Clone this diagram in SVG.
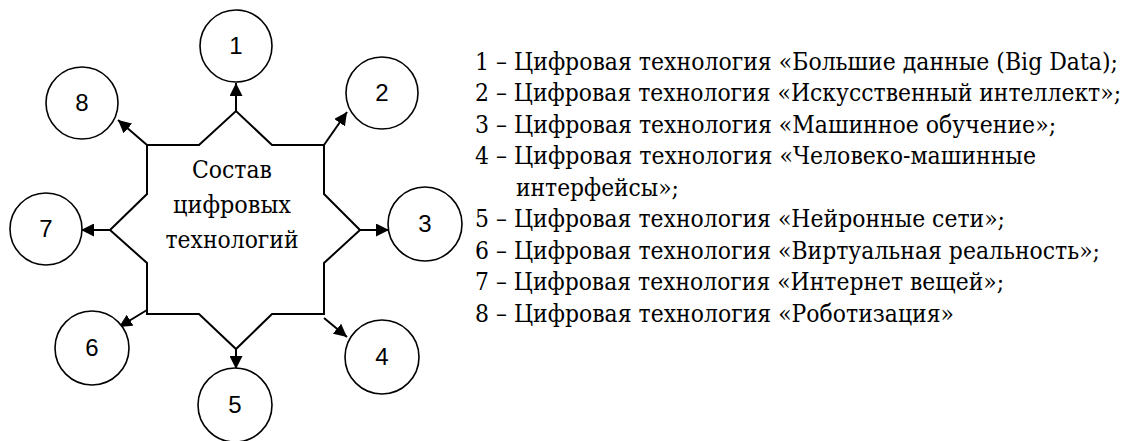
<svg xmlns="http://www.w3.org/2000/svg" width="1127" height="441" viewBox="0 0 1127 441">
<defs>
<marker id="ah" markerUnits="userSpaceOnUse" markerWidth="13" markerHeight="13" viewBox="0 0 13 13" refX="13" refY="6.5" orient="auto">
<path d="M0,0 L13,6.5 L0,13 z" fill="#000"/>
</marker>
</defs>
<style>
.c{fill:#fff;stroke:#000;stroke-width:1.6}
.n{font-family:"Liberation Sans","DejaVu Sans",sans-serif;font-size:24px;text-anchor:middle;fill:#000}
.s{fill:#fff;stroke:#000;stroke-width:2;stroke-linejoin:miter}
.t{font-family:"DejaVu Serif","Liberation Serif",serif;font-size:24px;text-anchor:middle;fill:#000}
.l{font-family:"DejaVu Serif","Liberation Serif",serif;font-size:24px;fill:#000}
.a{stroke:#000;stroke-width:2;fill:none;marker-end:url(#ah)}
</style>
<rect width="1127" height="441" fill="#fff"/>
<g id="center">
<polygon class="s" points="147,145 199,145 236,111 272,145 324,145 324,194 360,230 324,263 324,314 272,314 236,349 199,314 147,314 147,263 110,230 147,194"/>
<text class="t" x="232" y="178" textLength="80" lengthAdjust="spacingAndGlyphs">Состав</text>
<text class="t" x="232" y="213" textLength="118" lengthAdjust="spacingAndGlyphs">цифровых</text>
<text class="t" x="232" y="248" textLength="133" lengthAdjust="spacingAndGlyphs">технологий</text>
</g>
<g id="connectors">
<line class="a" x1="236" y1="111" x2="236" y2="83"/>
<line class="a" x1="324" y1="145" x2="347" y2="112"/>
<line class="a" x1="360" y1="230" x2="389" y2="230"/>
<line class="a" x1="324" y1="318" x2="347" y2="337"/>
<line class="a" x1="236" y1="349" x2="236" y2="369"/>
<line class="a" x1="147" y1="310" x2="119" y2="327"/>
<line class="a" x1="110" y1="230" x2="81" y2="230"/>
<line class="a" x1="147" y1="145" x2="118" y2="120"/>
</g>
<g id="node1"><circle class="c" cx="236" cy="46" r="36"/><text class="n" x="236" y="54">1</text></g>
<g id="node2"><circle class="c" cx="382" cy="93" r="36"/><text class="n" x="382" y="101">2</text></g>
<g id="node3"><circle class="c" cx="425" cy="224" r="37"/><text class="n" x="425" y="232">3</text></g>
<g id="node4"><circle class="c" cx="382" cy="357" r="37"/><text class="n" x="382" y="365">4</text></g>
<g id="node5"><circle class="c" cx="235" cy="405" r="37"/><text class="n" x="235" y="413">5</text></g>
<g id="node6"><circle class="c" cx="92" cy="348" r="37"/><text class="n" x="92" y="356">6</text></g>
<g id="node7"><circle class="c" cx="46" cy="229" r="36"/><text class="n" x="46" y="237">7</text></g>
<g id="node8"><circle class="c" cx="82" cy="103" r="36"/><text class="n" x="82" y="111">8</text></g>
<g id="legend" transform="scale(0.9,1)">
<text class="l" x="527.8" y="70" textLength="714.4" lengthAdjust="spacingAndGlyphs">1 – Цифровая технология «Большие данные (Big Data);</text>
<text class="l" x="527.8" y="101.5" textLength="717.8" lengthAdjust="spacingAndGlyphs">2 – Цифровая технология «Искусственный интеллект»;</text>
<text class="l" x="527.8" y="133" textLength="645.6" lengthAdjust="spacingAndGlyphs">3 – Цифровая технология «Машинное обучение»;</text>
<text class="l" x="527.8" y="164.5" textLength="623.3" lengthAdjust="spacingAndGlyphs">4 – Цифровая технология «Человеко-машинные</text>
<text class="l" x="573.3" y="196" textLength="181.1" lengthAdjust="spacingAndGlyphs">интерфейсы»;</text>
<text class="l" x="527.8" y="227.5" textLength="588.9" lengthAdjust="spacingAndGlyphs">5 – Цифровая технология «Нейронные сети»;</text>
<text class="l" x="527.8" y="259" textLength="694.4" lengthAdjust="spacingAndGlyphs">6 – Цифровая технология «Виртуальная реальность»;</text>
<text class="l" x="527.8" y="290.5" textLength="587.8" lengthAdjust="spacingAndGlyphs">7 – Цифровая технология «Интернет вещей»;</text>
<text class="l" x="527.8" y="322" textLength="532.2" lengthAdjust="spacingAndGlyphs">8 – Цифровая технология «Роботизация»</text>
</g>
</svg>
